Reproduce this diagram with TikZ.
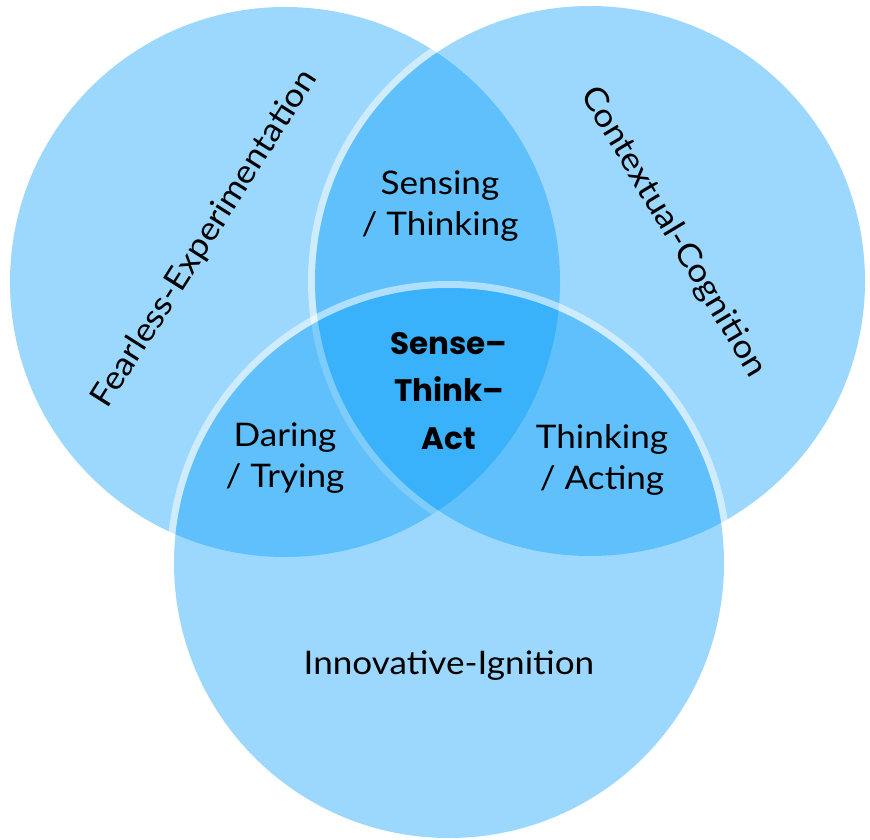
\documentclass[tikz,border=0pt]{standalone}
\usepackage{fontspec}
\setmainfont{Lato}[FakeStretch=1.08]
\newfontfamily\corefont{Poppins}
\definecolor{vennblue}{RGB}{0,155,250}

\begin{document}
\begin{tikzpicture}
[x=1pt,y=-1pt,
vennset/.style={circle, draw=none, fill=vennblue, fill opacity=0.39, minimum size=550pt, inner sep=0pt},
vennring/.style={draw=white, draw opacity=0.5, line width=7pt},
areatext/.style={draw=none, align=center, inner sep=0pt, font=\fontsize{32.5}{41}\selectfont},
coretext/.style={draw=none, align=center, inner sep=0pt, font=\corefont\fontsize{31}{47.5}\selectfont\bfseries}]
\useasboundingbox (0,0) rectangle (870,840);

% the three sets, each with a light ring just outside
\coordinate (fec) at (285,282);
\coordinate (ccc) at (590,281);
\coordinate (iic) at (449,563);
\draw[vennring] (fec) circle (278.5pt);
\node[vennset] (fe) at (fec) {};
\draw[vennring] (ccc) circle (278.5pt);
\node[vennset] (cc) at (ccc) {};
\draw[vennring] (iic) circle (278.5pt);
\node[vennset] (ii) at (iic) {};

% set names
\node[areatext, rotate=57.6] (fet) at (205,239) {Fearless-Experimentation};
\node[areatext, rotate=-59.1] (cct) at (673,232) {Contextual-Cognition};
\node[areatext] (iit) at (449,666) {Innovative-Ignition};

% overlaps
\node[areatext] (st) at (440,206) {Sensing\\/ Thinking};
\node[areatext] (dt) at (285,458) {Daring\\/ Trying};
\node[areatext] (ta) at (602,460) {Thinking\\/ Acting};
\node[coretext] (sta) at (449,391) {Sense–\\Think–\\Act};

\end{tikzpicture}
\end{document}
